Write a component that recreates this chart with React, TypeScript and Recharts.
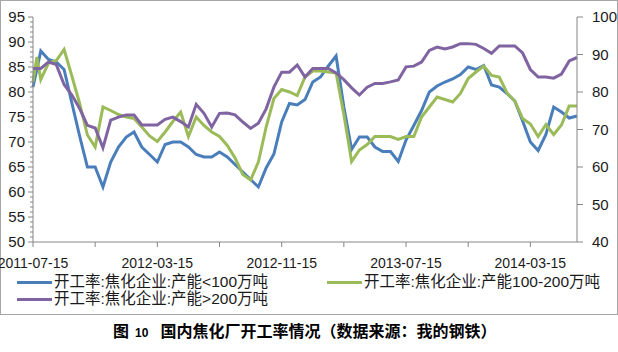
import { Line, LineChart, XAxis, YAxis } from 'recharts'

// months after 2011-07-15
const months = [
  0, 0.25, 0.5, 1, 1.5, 2, 2.5, 3, 3.5, 4, 4.5, 5, 5.5, 6, 6.5, 7, 7.5, 8, 8.5, 9, 9.5,
  10, 10.5, 11, 11.5, 12, 12.5, 13, 13.5, 14, 14.5, 15, 15.5, 16, 16.5, 17, 17.5, 18,
  18.5, 19, 19.5, 20, 20.5, 21, 21.5, 22, 22.5, 23, 23.5, 24, 24.5, 25, 25.5, 26, 26.5,
  27, 27.5, 28, 28.5, 29, 29.5, 30, 30.5, 31, 31.5, 32, 32.5, 33, 33.5, 34, 34.5, 35,
]

// 产能<100万吨 (left axis)
const smallCap = [
  81, 84.5, 88.2, 86.5, 86, 84.5, 77.8, 71.2, 65, 65, 61, 66, 69, 71, 72, 69, 67.5, 66,
  69.5, 70, 70, 69, 67.5, 67, 67, 68, 67, 65.5, 64, 62.5, 61, 64.8, 67.6, 74, 77.7, 77.4,
  78.5, 82, 83, 85.2, 87.2, 77, 68.5, 71, 71, 69, 68.1, 68.1, 66.1, 70.4, 73.3, 76.3, 80,
  81.2, 82, 82.6, 83.5, 85, 84.5, 85.3, 81.4, 81, 79.7, 78.2, 74.2, 70, 68.3, 71.5, 77,
  76, 74.8, 75.2,
]

// 产能100-200万吨 (left axis)
const midCap = [
  82, 87, 82.5, 85.8, 86.3, 88.5, 83.2, 77.7, 71.4, 69, 77, 76.3, 75.5, 75, 74.7, 73,
  71.2, 70.1, 72, 74.1, 76, 71.1, 75, 73.3, 72, 71.1, 69.3, 66.8, 63.5, 62.4, 66, 73,
  78.7, 80.5, 80, 79.3, 83, 84.2, 84.2, 84, 83.8, 75.5, 66.1, 68.4, 69.5, 71.1, 71.1,
  71.1, 70.5, 71.1, 71.1, 75, 77, 79, 78.5, 78, 79.7, 82.7, 84, 85.2, 83.3, 83, 79.8,
  78.2, 74.7, 73.6, 71.1, 73.5, 71.5, 73.4, 77.2, 77.2,
]

// 产能>200万吨 (right axis)
const largeCap = [
  86.3, 86.3, 86.3, 88, 87.3, 82, 79.2, 75.6, 71.1, 70.4, 65.1, 72.5, 73.3, 73.9, 73.9,
  71.2, 71.2, 71.2, 72.7, 73.3, 72.1, 70.7, 76.7, 74.3, 70.7, 74.3, 74.4, 73.9, 72, 70.3,
  71.7, 75.5, 81.3, 85.3, 85.3, 87.2, 84, 86.3, 86.3, 86.3, 85.1, 83.3, 81.1, 79.2, 81.3,
  82.3, 82.3, 82.7, 83.2, 86.7, 86.9, 88, 91.1, 92, 91.5, 92, 92.9, 92.9, 92.7, 91.6,
  90.3, 92.3, 92.3, 92.3, 90.4, 86, 84, 84, 83.7, 84.8, 88.3, 89.2,
]

const seriesNames = [
  '开工率:焦化企业:产能<100万吨',
  '开工率:焦化企业:产能100-200万吨',
  '开工率:焦化企业:产能>200万吨',
]
const colors = ['#4a7ebb', '#9bbb59', '#8064a2']

const tickMonths = [0, 4, 8, 12, 16, 20, 24, 28, 32]
const labelMonths = [0, 8, 16, 24, 32]
const dateLabels = ['2011-07-15', '2012-03-15', '2012-11-15', '2013-07-15', '2014-03-15']
const leftMajor = [50, 55, 60, 65, 70, 75, 80, 85, 90, 95]
const rightTicks = [40, 50, 60, 70, 80, 90, 100]

const leftTicks: number[] = []
for (let v = 50; v <= 95; v++) leftTicks.push(v)

const AXIS = '#868686'
const INK = '#1a1a1a'
const NUM_FONT = '"Liberation Sans", Arial, sans-serif'
const CJK_FONT = '"Noto Sans CJK SC", "Noto Sans", sans-serif'
const LEGEND_FONT = '"Liberation Sans", "Noto Sans CJK SC", sans-serif'

const data = months.map((m, i) => ({
  m,
  small: smallCap[i],
  mid: midCap[i],
  large: largeCap[i],
}))

function LeftTick({ x, y, payload }: any) {
  const v = payload.value
  const major = leftMajor.includes(v)
  return (
    <g>
      <line x1={x - (major ? 5 : 3)} x2={x} y1={y} y2={y} stroke={AXIS} />
      {major && (
        <text x={x - 8} y={y} dy={5} textAnchor="end" fontSize={15} fill={INK} fontFamily={NUM_FONT}>
          {v}
        </text>
      )}
    </g>
  )
}

function RightTick({ x, y, payload }: any) {
  return (
    <g>
      <line x1={x} x2={x + 6} y1={y} y2={y} stroke={AXIS} />
      <text x={x + 15} y={y} dy={5} textAnchor="start" fontSize={15} fill={INK} fontFamily={NUM_FONT}>
        {payload.value}
      </text>
    </g>
  )
}

function BottomTick({ x, y, payload }: any) {
  const idx = labelMonths.indexOf(payload.value)
  return (
    <g>
      <line x1={x} x2={x} y1={y} y2={y + 5} stroke={AXIS} />
      {idx >= 0 && (
        <text x={x} y={y + 26} textAnchor="middle" fontSize={14} fill={INK} fontFamily={NUM_FONT}>
          {dateLabels[idx]}
        </text>
      )}
    </g>
  )
}

function LegendItem({ name, color, left, top }: { name: string; color: string; left: number; top: number }) {
  return (
    <div style={{ position: 'absolute', left, top, display: 'flex', alignItems: 'center', whiteSpace: 'nowrap' }}>
      <span style={{ display: 'inline-block', width: 35, height: 3, background: color, marginRight: 2 }} />
      <span style={{ fontSize: 15.5, lineHeight: '16px', color: INK, fontFamily: LEGEND_FONT }}>{name}</span>
    </div>
  )
}

export default function App() {
  return (
    <div style={{ position: 'relative', width: 618, height: 352, background: '#fff', overflow: 'hidden' }}>
      <style>{'body{margin:0}'}</style>
      <div
        style={{
          position: 'absolute',
          left: 0,
          top: 0,
          width: 616,
          height: 313,
          border: '1px solid #a6a6a6',
        }}
      />
      <div style={{ position: 'absolute', left: 0, top: 0 }}>
        <LineChart width={618} height={272} data={data} margin={{ top: 17, right: 0, bottom: 0, left: 0 }}>
          <XAxis
            dataKey="m"
            type="number"
            domain={[0, 35]}
            ticks={tickMonths}
            interval={0}
            tickSize={0}
            tickMargin={0}
            height={30}
            stroke={AXIS}
            tick={(p: any) => <BottomTick {...p} />}
          />
          <YAxis
            yAxisId="left"
            domain={[50, 95]}
            ticks={leftTicks}
            interval={0}
            width={33}
            tickSize={0}
            tickMargin={0}
            stroke={AXIS}
            tick={(p: any) => <LeftTick {...p} />}
          />
          <YAxis
            yAxisId="right"
            orientation="right"
            domain={[40, 100]}
            ticks={rightTicks}
            interval={0}
            width={41}
            tickSize={0}
            tickMargin={0}
            stroke={AXIS}
            tick={(p: any) => <RightTick {...p} />}
          />
          <Line
            yAxisId="left"
            type="linear"
            dataKey="small"
            name={seriesNames[0]}
            stroke={colors[0]}
            strokeWidth={3}
            dot={false}
            isAnimationActive={false}
          />
          <Line
            yAxisId="left"
            type="linear"
            dataKey="mid"
            name={seriesNames[1]}
            stroke={colors[1]}
            strokeWidth={3}
            dot={false}
            isAnimationActive={false}
          />
          <Line
            yAxisId="right"
            type="linear"
            dataKey="large"
            name={seriesNames[2]}
            stroke={colors[2]}
            strokeWidth={3}
            dot={false}
            isAnimationActive={false}
          />
        </LineChart>
      </div>
      <LegendItem name={seriesNames[0]} color={colors[0]} left={17} top={274} />
      <LegendItem name={seriesNames[1]} color={colors[1]} left={327} top={274} />
      <LegendItem name={seriesNames[2]} color={colors[2]} left={17} top={291} />
      <div
        style={{
          position: 'absolute',
          left: 113,
          top: 318,
          whiteSpace: 'nowrap',
          fontFamily: CJK_FONT,
          fontWeight: 700,
          fontSize: 16,
          color: '#000',
        }}
      >
        图<span style={{ fontSize: 12, fontFamily: NUM_FONT, marginLeft: 6 }}>10</span>
        <span style={{ marginLeft: 12 }}>国内焦化厂开工率情况（数据来源：我的钢铁）</span>
      </div>
    </div>
  )
}
